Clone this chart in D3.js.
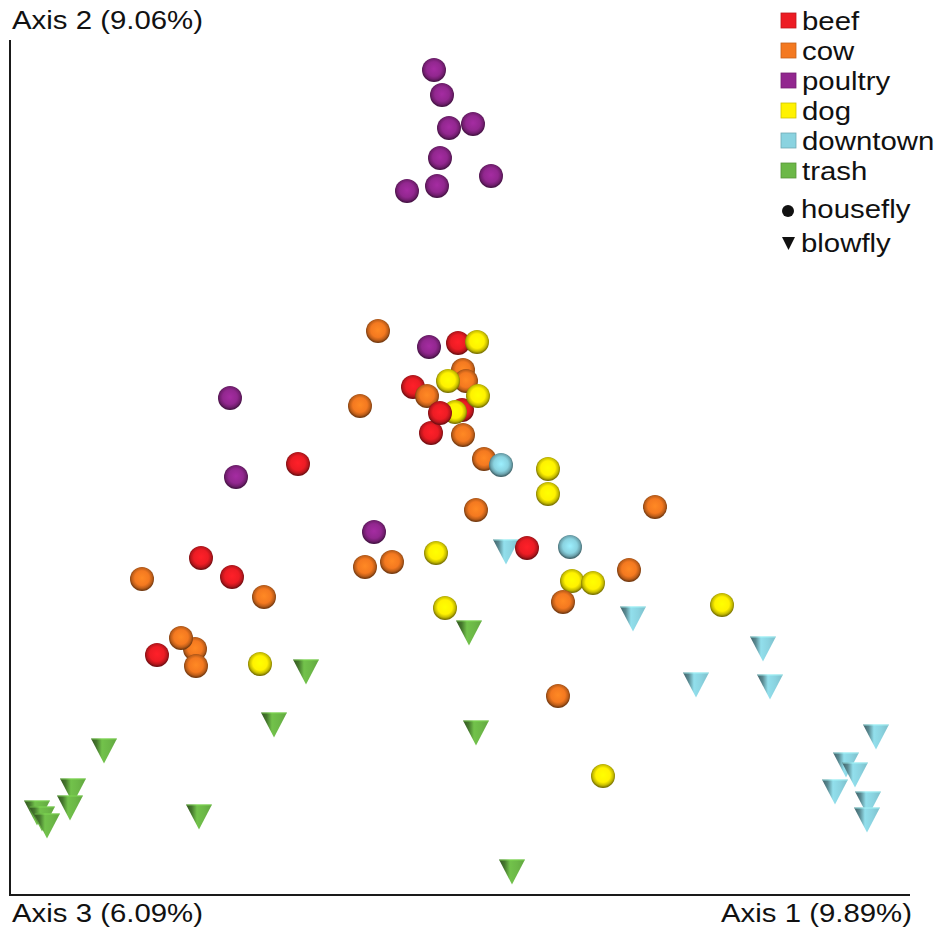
<!DOCTYPE html>
<html>
<head>
<meta charset="utf-8">
<script src="https://cdn.jsdelivr.net/npm/d3@7"></script>
<style>
  body { margin: 0; background: #fff; }
  text { font-family: "Liberation Sans", Arial, Helvetica, sans-serif; fill: #111; }
</style>
</head>
<body>
<svg width="940" height="932"></svg>
<script>
const groups = ['beef', 'cow', 'poultry', 'dog', 'downtown', 'trash'];
const groupColors = ['#ed1c24', '#f47920', '#92278f', '#fff200', '#8ad3e0', '#6cb847'];
const hosts = ['housefly', 'blowfly'];
const axisLabels = ['Axis 2 (9.06%)', 'Axis 3 (6.09%)', 'Axis 1 (9.89%)'];

// [axis 1, axis 2, in front?]
const beef = [[448, 552], [403, 508], [452, 485], [430, 482, 1], [421, 462], [288, 431],
  [517, 347, 1], [191, 337], [222, 318], [147, 240]];
const cow = [[368, 564], [453, 525], [456, 514], [417, 499, 1], [350, 489], [453, 460],
  [474, 436], [466, 385], [645, 388], [355, 328], [382, 333], [619, 325], [553, 293, 1],
  [548, 199], [132, 316], [254, 298], [185, 246], [171, 257], [186, 229]];
const poultry = [[424, 825], [432, 800], [439, 767], [463, 771], [430, 737], [427, 709],
  [397, 704], [481, 719], [419, 548], [220, 497], [226, 418], [364, 363]];
const dog = [[467, 553], [438, 514], [468, 499], [445, 483], [538, 426], [538, 401],
  [426, 342], [562, 314], [583, 312], [435, 287], [712, 290], [593, 119], [250, 231]];
const downtownHousefly = [[491, 430], [560, 348]];
const downtownBlowfly = [[496, 343], [623, 276], [753, 246], [686, 210], [760, 208],
  [866, 158], [836, 130], [845, 120], [825, 103], [858, 91], [857, 75]];
const trashBlowfly = [[459, 262], [296, 223], [264, 170], [466, 162], [94, 144], [63, 104],
  [60, 87], [27, 82], [32, 76], [37, 69], [189, 78], [502, 23]];

const color = d3.scaleOrdinal(groups, groupColors);
const x = d3.scaleLinear().domain([0, 900]).range([10, 910]);
const y = d3.scaleLinear().domain([0, 855]).range([895, 40]);

const svg = d3.select('svg');
const defs = svg.append('defs');

// shading for the spheres and cones
groups.forEach(g => {
  const c = d3.color(color(g));
  const sphere = defs.append('radialGradient')
    .attr('id', `sphere-${g}`)
    .attr('cx', '50%').attr('cy', '46%').attr('r', '52%');
  [[0, c.brighter(0.35)], [0.58, c], [0.82, c.darker(0.7)], [1, c.darker(2.1)]]
    .forEach(([o, col]) => sphere.append('stop').attr('offset', o).attr('stop-color', col));

  const cone = defs.append('linearGradient')
    .attr('id', `cone-${g}`)
    .attr('x1', 0).attr('x2', 1).attr('y1', 0).attr('y2', 0);
  [[0, c.darker(2.2)], [0.22, c.darker(1.2)], [0.42, c.brighter(0.15)], [0.7, c], [1, c.darker(0.3)]]
    .forEach(([o, col]) => cone.append('stop').attr('offset', o).attr('stop-color', col));
});

const samples = [
  ...poultry.map(p => ({ group: 'poultry', host: 'housefly', p })),
  ...cow.map(p => ({ group: 'cow', host: 'housefly', p })),
  ...beef.map(p => ({ group: 'beef', host: 'housefly', p })),
  ...dog.map(p => ({ group: 'dog', host: 'housefly', p })),
  ...downtownHousefly.map(p => ({ group: 'downtown', host: 'housefly', p })),
  ...downtownBlowfly.map(p => ({ group: 'downtown', host: 'blowfly', p })),
  ...trashBlowfly.map(p => ({ group: 'trash', host: 'blowfly', p }))
].sort((a, b) => (a.p[2] || 0) - (b.p[2] || 0));

// axes
svg.append('path')
  .attr('d', `M${x(0)},${y(855)}V${y(0)}H${x(900)}`)
  .attr('fill', 'none')
  .attr('stroke', '#1a1a1a')
  .attr('stroke-width', 2);

const label = (txt, px, py, anchor) => svg.append('text')
  .attr('transform', `translate(${px},${py}) scale(1.13,1)`)
  .attr('text-anchor', anchor)
  .style('font-size', '26px')
  .text(txt);

label(axisLabels[0], 12, 29, 'start');
label(axisLabels[1], 12, 922, 'start');
label(axisLabels[2], 912, 922, 'end');

// points
const marks = svg.append('g').selectAll('g')
  .data(samples)
  .join('g')
    .attr('transform', d => `translate(${x(d.p[0])},${y(d.p[1])})`);

marks.filter(d => d.host === 'housefly')
  .append('circle')
    .attr('r', 12)
    .attr('fill', d => `url(#sphere-${d.group})`);

const cones = marks.filter(d => d.host === 'blowfly');
cones.append('path')
  .attr('d', 'M-13,-12.5L13,-12.5L0,12.5Z')
  .attr('fill', d => `url(#cone-${d.group})`);
cones.append('path')
  .attr('d', 'M-12.5,-12L12.5,-12')
  .attr('stroke', d => d3.color(color(d.group)).brighter(0.6))
  .attr('stroke-width', 1)
  .attr('opacity', 0.7);

// legend
const legend = svg.append('g');
groups.forEach((g, i) => {
  const base = 30 + i * 30;
  legend.append('rect')
    .attr('x', 781).attr('y', base - 17)
    .attr('width', 15).attr('height', 15)
    .attr('fill', color(g))
    .attr('stroke', d3.color(color(g)).darker(0.6))
    .attr('stroke-width', 0.8);
  legend.append('text')
    .attr('transform', `translate(802,${base}) scale(1.13,1)`)
    .style('font-size', '26px')
    .text(g);
});

legend.append('circle')
  .attr('cx', 788).attr('cy', 211).attr('r', 6)
  .attr('fill', '#111');
legend.append('path')
  .attr('d', 'M782,237L795,237L788.5,250Z')
  .attr('fill', '#111');
hosts.forEach((h, i) => {
  legend.append('text')
    .attr('transform', `translate(801,${218 + i * 34}) scale(1.13,1)`)
    .style('font-size', '26px')
    .text(h);
});
</script>
</body>
</html>
